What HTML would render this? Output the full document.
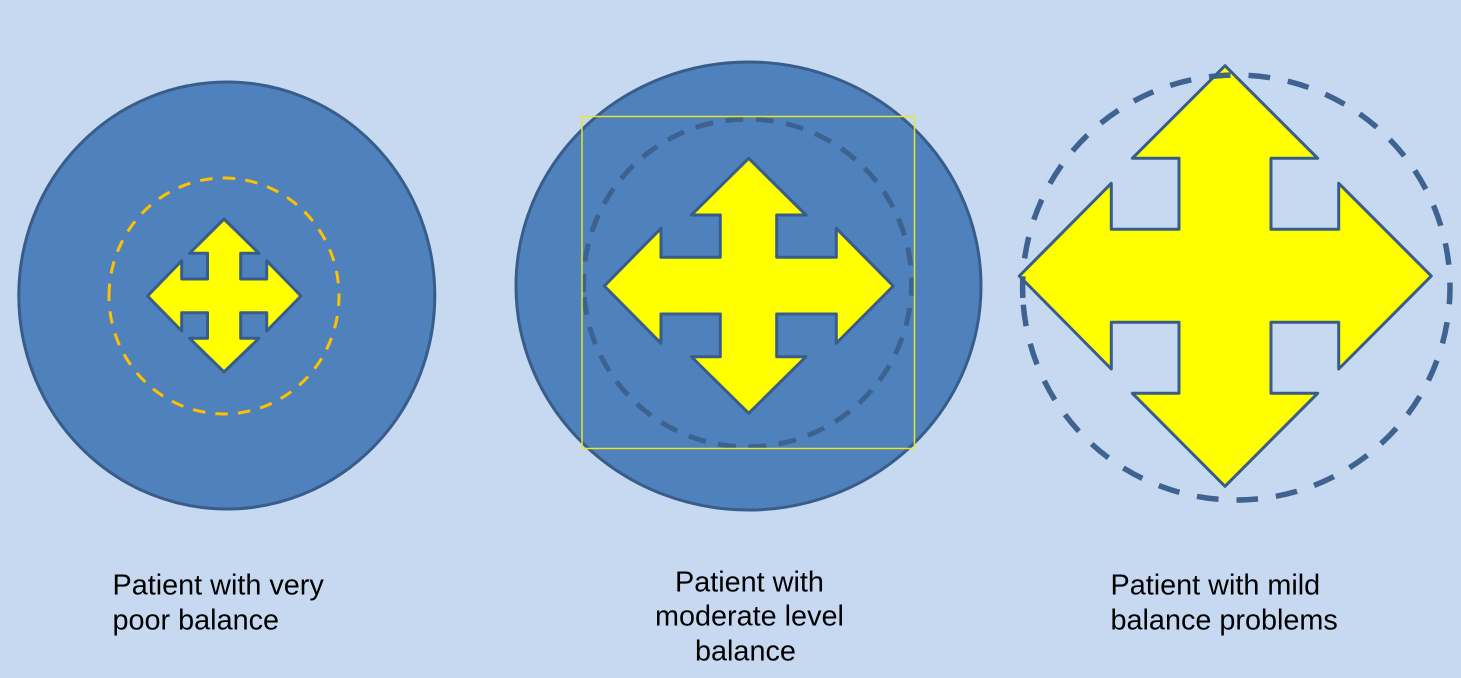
<!DOCTYPE html>
<html><head><meta charset="utf-8"><style>
html,body{margin:0;padding:0;background:#c6d9f1;width:1461px;height:678px;overflow:hidden}
svg{display:block}
text{font-family:"Liberation Sans",sans-serif;font-size:28.8px;fill:#000}
</style></head><body>
<svg width="1461" height="678" viewBox="0 0 1461 678" xmlns="http://www.w3.org/2000/svg">
<rect width="1461" height="678" fill="#c6d9f1"/>
<ellipse cx="226.8" cy="295.5" rx="208" ry="213.5" fill="#4f81bd" stroke="#385d8a" stroke-width="3"/>
<path d="M109 296A115 118 0 0 1 339 296A115 118 0 0 1 109 296Z" fill="none" stroke="#ffc000" stroke-width="3" stroke-dasharray="12.5 10.2"/>
<polygon points="224,219 259,253.3 240.7,253.3 240.7,279 266.7,279 266.7,260.7 301,296 266.7,331 266.7,312.7 240.7,312.7 240.7,338.3 259,338.3 224,372 189.5,338.3 207.5,338.3 207.5,312.7 181.7,312.7 181.7,331 147.5,296 181.7,260.7 181.7,279 207.5,279 207.5,253.3 189.5,253.3" fill="#ffff00" stroke="#385d8a" stroke-width="3" stroke-linejoin="round"/>

<ellipse cx="748.5" cy="286" rx="232.5" ry="224" fill="#4f81bd" stroke="#385d8a" stroke-width="3"/>
<path transform="rotate(-3.1 747.6 283)" d="M583.6 283A164 164 0 0 1 911.6 283A164 164 0 0 1 583.6 283Z" fill="none" stroke="#385d8a" stroke-opacity=".85" stroke-width="5" stroke-dasharray="18 12.5"/>
<rect x="582" y="116.5" width="332.5" height="332" fill="none" stroke="#e6e62a" stroke-width="1.5"/>
<polygon points="748.7,158.3 806,215 776.7,215 776.7,257.3 836.3,257.3 836.3,228.3 893.3,286 836.3,343.3 836.3,314 776.7,314 776.7,356.7 806,356.7 748.7,413.3 691.3,356.7 720.3,356.7 720.3,314 661,314 661,343.3 604.3,286 661,228.3 661,257.3 720.3,257.3 720.3,215 691.3,215" fill="#ffff00" stroke="#385d8a" stroke-width="3" stroke-linejoin="round"/>

<polygon points="1225,65.7 1317.7,158.3 1271,158.3 1271,229.3 1338.7,229.3 1338.7,183.3 1431.3,276 1338.7,369 1338.7,322.3 1271,322.3 1271,393.3 1317.7,393.3 1225,486.3 1132.3,393.3 1179,393.3 1179,322.3 1111.3,322.3 1111.3,369 1019.3,276 1111.3,183.3 1111.3,229.3 1179,229.3 1179,158.3 1132.3,158.3" fill="#ffff00" stroke="#385d8a" stroke-width="3" stroke-linejoin="round"/>
<path transform="rotate(-2.8 1236.3 287.5)" d="M1022.6 287.5A213.7 212.5 0 0 1 1450 287.5A213.7 212.5 0 0 1 1022.6 287.5Z" fill="none" stroke="#385d8a" stroke-opacity=".95" stroke-width="5.5" stroke-dasharray="21.7 18"/>

<text x="112.5" y="594.7">Patient with very</text>
<text x="112.5" y="629.6">poor balance</text>
<text x="675" y="591.7">Patient with</text>
<text x="655" y="625.7">moderate level</text>
<text x="695" y="660.7">balance</text>
<text x="1110.5" y="594.7">Patient with mild</text>
<text x="1110.5" y="629.6">balance problems</text>
</svg>
</body></html>
